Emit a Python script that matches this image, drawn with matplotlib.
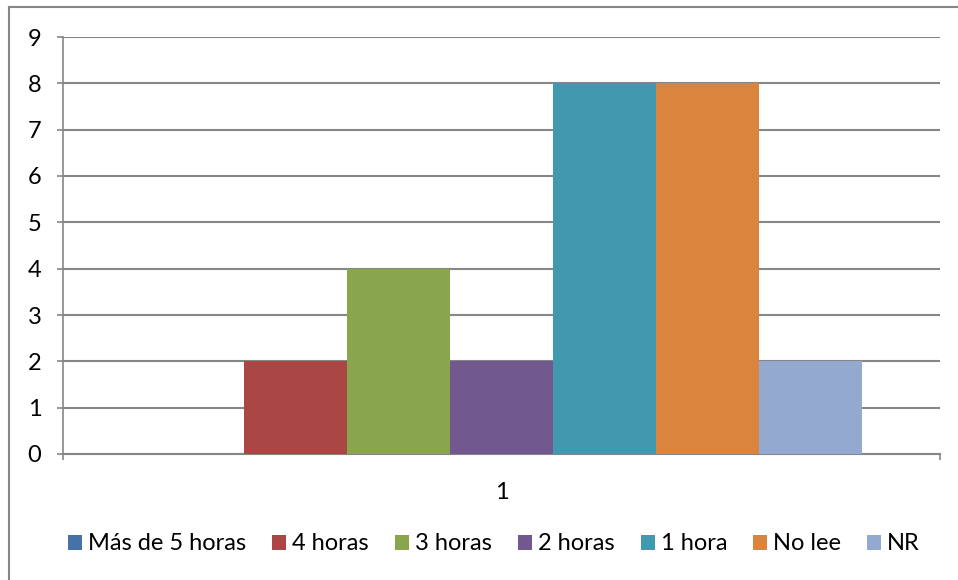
import matplotlib
matplotlib.use("Agg")
import matplotlib.pyplot as plt
from matplotlib.patches import Rectangle
from matplotlib.lines import Line2D

categories = ["1"]
series_names = ["Más de 5 horas", "4 horas", "3 horas", "2 horas", "1 hora", "No lee", "NR"]
series_values = [0, 2, 4, 2, 8, 8, 2]
colors = ["#4572A7", "#AA4643", "#89A54E", "#71588F", "#4198AF", "#DB843D", "#93A9CF"]
y_ticks = list(range(0, 10))

plt.rcParams['font.family'] = ['Lato', 'DejaVu Sans']

W, H = 958, 580
fig = plt.figure(figsize=(W / 100, H / 100), dpi=100)
fig.patch.set_facecolor("white")

left, right, top, bottom = 63, 940, 37, 454
ax = fig.add_axes([left / W, 1 - bottom / H, (right - left) / W, (bottom - top) / H])

grid_c = "#868686"
fs = 17
n = len(series_names)
bw = 103 / (right - left)
start = -bw * n / 2
for i, (name, val, c) in enumerate(zip(series_names, series_values, colors)):
    ax.bar(start + bw * (i + 0.5), val, width=bw, color=c, label=name, zorder=3, linewidth=0)

ax.set_xlim(-0.5, 0.5)
ax.set_ylim(0, 9)
ax.set_yticks(y_ticks)
ax.set_yticklabels([str(t) for t in y_ticks], fontsize=fs)
ax.yaxis.grid(True, color=grid_c, linewidth=1.5, zorder=1)
ax.set_axisbelow(True)

ax.set_xticks([0])
ax.set_xticklabels(categories, fontsize=fs)
ax.set_xticks([-0.5, 0.5], minor=True)
ax.tick_params(axis='x', which='major', length=0, pad=20)
ax.tick_params(axis='x', which='minor', length=4.5, color=grid_c, width=1.2, direction='out')
ax.tick_params(axis='y', length=4.5, color=grid_c, width=1.2, direction='out', pad=11)

for s in ["top", "right"]:
    ax.spines[s].set_visible(False)
ax.spines["left"].set_color(grid_c)
ax.spines["bottom"].set_color(grid_c)
ax.spines["left"].set_linewidth(1.2)
ax.spines["bottom"].set_linewidth(1.5)

handles = [Rectangle((0, 0), 1, 1, facecolor=c, edgecolor='none') for c in colors]
fig.legend(handles, series_names, loc='center', bbox_to_anchor=(494 / W, 1 - 544 / H),
           ncol=n, frameon=False, fontsize=fs, handlelength=0.6, handleheight=0.6,
           handletextpad=0.25, columnspacing=1.1)

# outer chart border
fig.add_artist(Line2D([9 / W, 9 / W], [0, 1 - 7 / H], color=grid_c, linewidth=1.5,
                      transform=fig.transFigure))
fig.add_artist(Line2D([9 / W, 1], [1 - 7 / H, 1 - 7 / H], color=grid_c, linewidth=1.5,
                      transform=fig.transFigure))

fig.savefig("out.png", dpi=100, facecolor="white")
